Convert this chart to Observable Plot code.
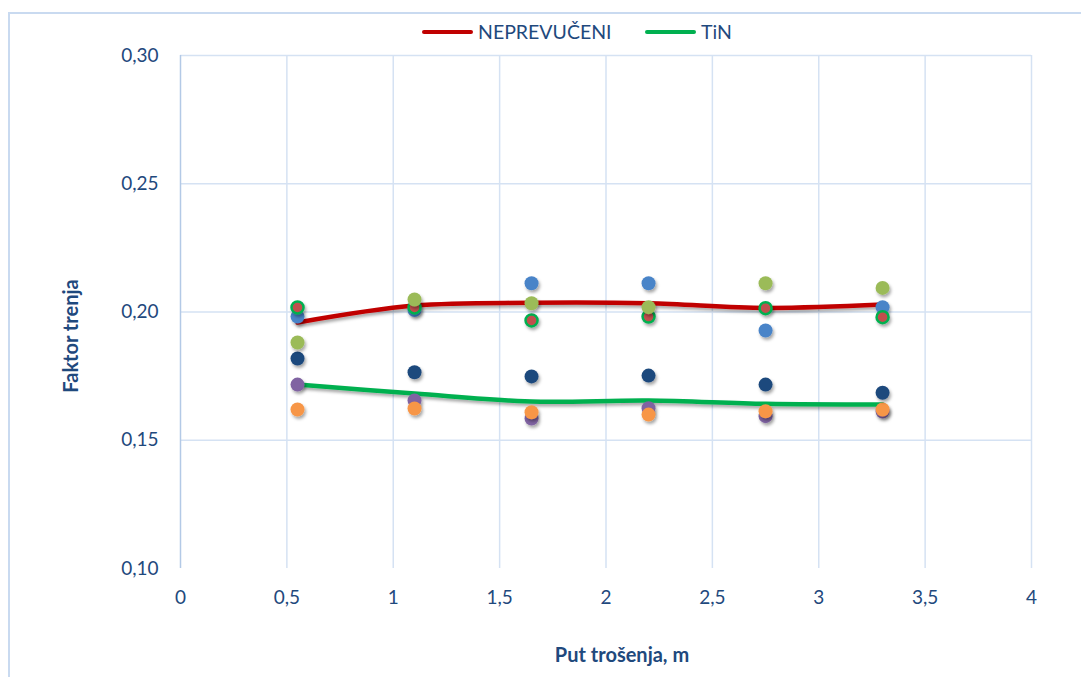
<!DOCTYPE html>
<html>
<head>
<meta charset="utf-8">
<script src="https://cdn.jsdelivr.net/npm/d3@7"></script>
<script src="https://cdn.jsdelivr.net/npm/@observablehq/plot@0.6"></script>
<style>
  html, body { margin: 0; padding: 0; background: #ffffff; }
  #wrap { position: relative; width: 1081px; height: 677px; overflow: hidden; background: #ffffff; font-family: Lato, "Open Sans", sans-serif; }
  #frame { position: absolute; left: 8px; top: 12px; width: 1200px; height: 800px; border-left: 2px solid #c9daf0; border-top: 2px solid #c9daf0; pointer-events: none; }
  #legend { position: relative; height: 45px; }
  .item { position: absolute; top: 20px; display: flex; align-items: center; color: #1F497D; font-size: 19.5px; }
  .sw { width: 51px; height: 4px; border-radius: 2px; margin-right: 5px; }
  #chart { position: relative; }
</style>
</head>
<body>
<div id="wrap">
  <div id="frame"></div>
  <div id="legend">
    <div class="item" style="left:422px"><span class="sw" style="background:#C00000"></span><span>NEPREVUČENI</span></div>
    <div class="item" style="left:645px"><span class="sw" style="background:#00B050"></span><span>TiN</span></div>
  </div>
  <div id="chart"></div>
</div>
<script>
// Wear path positions (m)
const distance = [0.55, 1.1, 1.65, 2.2, 2.75, 3.3];

// Individual measurements – uncoated (NEPREVUČENI)
const uncoatedRed   = [0.2018, 0.2018, 0.1967, 0.1982, 0.2015, 0.1980];
const uncoatedBlue  = [0.1982, 0.2008, 0.2112, 0.2112, 0.1928, 0.2019];
const uncoatedOlive = [0.1881, 0.2049, 0.2034, 0.2019, 0.2112, 0.2094];

// Individual measurements – TiN coated
const tinNavy   = [0.1819, 0.1765, 0.1749, 0.1752, 0.1717, 0.1685];
const tinPurple = [0.1717, 0.1655, 0.1585, 0.1625, 0.1594, 0.1612];
const tinOrange = [0.1620, 0.1624, 0.1609, 0.1600, 0.1613, 0.1620];

// Trend lines
const lineNeprevuceni = [0.1959, 0.2025, 0.2036, 0.2034, 0.2016, 0.2029];
const lineTiN         = [0.1717, 0.1682, 0.1651, 0.1655, 0.1642, 0.1639];

// Axis ticks
const xTicks = [0, 0.5, 1, 1.5, 2, 2.5, 3, 3.5, 4];
const yTicks = [0.10, 0.15, 0.20, 0.25, 0.30];
const yGrid  = [0.15, 0.20, 0.25, 0.30];

const rows = (ys) => distance.map((x, i) => ({x, y: ys[i]}));
const comma = (s) => s.replace(".", ",");

const dotSeries = [
  {data: tinPurple, fill: "#8064A2"},
  {data: tinOrange, fill: "#F79646"},
  {data: tinNavy, fill: "#1F497D"},
  {data: uncoatedBlue, fill: "#4A84C8"},
  {data: uncoatedRed, fill: "#C0504D", stroke: "#00B050"},
  {data: uncoatedOlive, fill: "#9BBB59"}
];

const chart = Plot.plot({
  width: 1081,
  height: 632,
  marginTop: 10,
  marginBottom: 109,
  marginLeft: 180,
  marginRight: 50,
  style: {fontFamily: "Lato, 'Open Sans', sans-serif", fontSize: "19px", color: "#1F497D", background: "transparent", overflow: "visible"},
  x: {domain: [0, 4], ticks: xTicks, tickFormat: d => comma(String(d)), tickSize: 0, tickPadding: 22, label: null},
  y: {domain: [0.10, 0.30], ticks: yTicks, tickFormat: d => comma(d3.format(".2f")(d)), tickSize: 0, tickPadding: 22, label: null},
  marks: [
    Plot.ruleY(yGrid, {stroke: "#d5e2f3", strokeWidth: 1.5}),
    Plot.ruleX(xTicks.filter(d => d > 0), {y1: 0.10, y2: 0.30, stroke: "#d5e2f3", strokeWidth: 1.5}),
    Plot.ruleX([0], {y1: 0.10, y2: 0.30, stroke: "#b3c9e6", strokeWidth: 1.5}),
    Plot.line(rows(lineTiN), {x: "x", y: "y", stroke: "#00B050", strokeWidth: 4.5, curve: "catmull-rom"}),
    Plot.line(rows(lineNeprevuceni), {x: "x", y: "y", stroke: "#C00000", strokeWidth: 4.5, curve: "catmull-rom"}),
    ...dotSeries.map(s => Plot.dot(rows(s.data), {
      x: "x", y: "y", r: s.stroke ? 6 : 7, fill: s.fill,
      stroke: s.stroke || "none", strokeWidth: s.stroke ? 2.5 : 0
    })),
    Plot.text(["Faktor trenja"], {frameAnchor: "left", textAnchor: "middle", dx: -109, dy: 24, rotate: -90, fontWeight: "bold", fontSize: 20, fill: "#1F497D"}),
    Plot.text(["Put trošenja, m"], {frameAnchor: "bottom", dx: 16, dy: 93, fontWeight: "bold", fontSize: 20, fill: "#1F497D"})
  ]
});

document.getElementById("chart").appendChild(chart);

// soft drop shadows like the original
const svg = d3.select(chart);
const defs = svg.insert("defs", ":first-child");
const f = defs.append("filter").attr("id", "shadow").attr("x", "-50%").attr("y", "-50%").attr("width", "200%").attr("height", "200%");
f.append("feDropShadow").attr("dx", 1.5).attr("dy", 2.5).attr("stdDeviation", 1.6).attr("flood-color", "#000").attr("flood-opacity", 0.35);
svg.selectAll('g[aria-label="dot"], g[aria-label="line"]').attr("filter", "url(#shadow)");
</script>
</body>
</html>
